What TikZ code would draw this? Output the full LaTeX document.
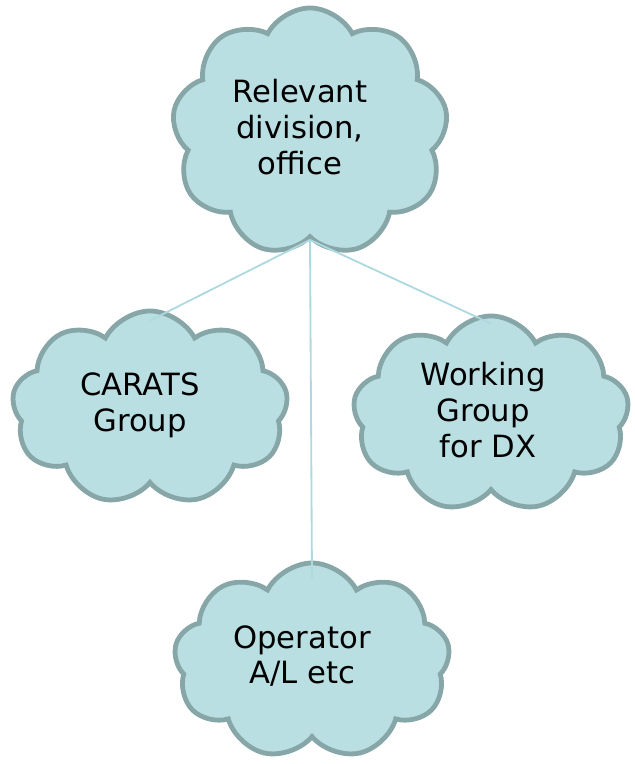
\documentclass[tikz,border=0pt]{standalone}
\usepackage{fontspec}
\setmainfont{DejaVu Sans}
\usetikzlibrary{shapes.symbols}
\definecolor{cloudfill}{HTML}{B9DFE3}
\definecolor{cloudline}{HTML}{87A6A8}
\definecolor{linkline}{HTML}{AED9DE}
\tikzset{
  cloudbox/.style={draw=cloudline, fill=cloudfill, line width=3.4pt, cloud,
    cloud puffs=9, cloud puff arc=125, cloud ignores aspect, inner sep=0pt},
  cloudtext/.style={align=center, font=\fontsize{21.8}{25.5}\selectfont}
}
\begin{document}
\begin{tikzpicture}[x=0.025cm,y=-0.025cm]
\useasboundingbox (0,0) rectangle (634,764);
\node (office) at (310,132) [cloudbox, minimum width=6.9cm, minimum height=6.2cm] {};
\node (carats) at (150,408) [cloudbox, minimum width=6.9cm, minimum height=4.85cm] {};
\node (wg) at (491,414) [cloudbox, minimum width=6.9cm, minimum height=4.9cm] {};
\node (operator) at (312,661) [cloudbox, minimum width=6.9cm, minimum height=4.9cm] {};
\node (officetext) at (300,127) [cloudtext] {Relevant\\division,\\office};
\node (caratstext) at (140,405) [cloudtext] {CARATS\\Group};
\node (wgtext) at (483,410) [cloudtext] {Working\\Group\\\ for DX};
\node (operatortext) at (302,656) [cloudtext] {Operator\\A/L etc};

\draw[linkline, line width=1.3pt]
(office.south) to ([yshift=-0.3cm]carats.north)
(office.south) to ([yshift=-0.25cm]wg.north)
(office.south) to ([yshift=-0.45cm]operator.north);
\end{tikzpicture}
\end{document}
